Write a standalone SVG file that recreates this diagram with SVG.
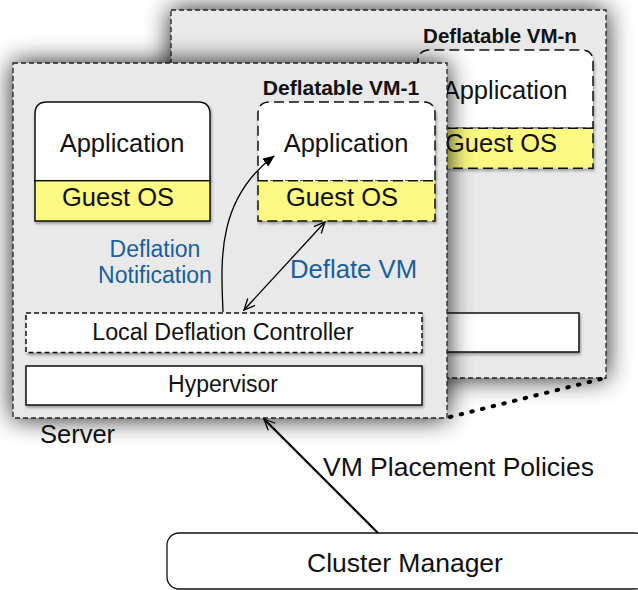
<svg xmlns="http://www.w3.org/2000/svg" width="638" height="590" viewBox="0 0 638 590">
<defs>
<filter id="bigShadow" x="-25%" y="-25%" width="150%" height="150%">
<feGaussianBlur in="SourceAlpha" stdDeviation="13"/>
<feComponentTransfer><feFuncA type="linear" slope="0.9"/></feComponentTransfer>
<feMerge><feMergeNode/><feMergeNode in="SourceGraphic"/></feMerge>
</filter>
<filter id="smallShadow" x="-10%" y="-20%" width="130%" height="160%">
<feGaussianBlur in="SourceAlpha" stdDeviation="1.5"/>
<feOffset dx="1" dy="2"/>
<feComponentTransfer><feFuncA type="linear" slope="0.35"/></feComponentTransfer>
<feMerge><feMergeNode/><feMergeNode in="SourceGraphic"/></feMerge>
</filter>
<marker id="filled" markerWidth="12" markerHeight="10" refX="11" refY="5" orient="auto" markerUnits="userSpaceOnUse">
<path d="M0,0 L12,5 L0,10 Z" fill="#000"/>
</marker>
<marker id="open" markerWidth="14" markerHeight="12" refX="12" refY="6" orient="auto-start-reverse" markerUnits="userSpaceOnUse">
<path d="M1,1 L12,6 L1,11" fill="none" stroke="#000" stroke-width="1.3"/>
</marker>
</defs>
<style>
.server{fill:#e9e9e9;stroke:#222;stroke-width:1.3;stroke-dasharray:5 3}
.app{fill:#fff;stroke:#111;stroke-width:1.5}
.os{fill:#fbf981;stroke:#111;stroke-width:1.5}
.dash{stroke-dasharray:10 5}
.box{fill:#fff;stroke:#111;stroke-width:1.5}
.t{font-family:"Liberation Sans",Arial,sans-serif;fill:#111}
.b{font-family:"Liberation Sans",Arial,sans-serif;font-weight:bold;fill:#111}
.blue{font-family:"Liberation Sans",Arial,sans-serif;fill:#1a5f9e}
.ln{fill:none;stroke:#000;stroke-width:1.3}
</style>
<rect width="638" height="590" fill="#fff"/>

<g id="server-n">
<rect class="server" x="171" y="10" width="435" height="368" filter="url(#bigShadow)"/>
<text class="b" x="500" y="43" font-size="20.5" text-anchor="middle">Deflatable VM-n</text>
<g id="vm-n" filter="url(#smallShadow)">
<path class="app dash" d="M418,128.3 V62 Q418,50 430,50 H581 Q593,50 593,62 V128.3 Z"/>
<rect class="os dash" x="418" y="128.3" width="175" height="40"/>
</g>
<text class="t" x="505" y="99" font-size="25.5" text-anchor="middle">Application</text>
<text class="t" x="501" y="152" font-size="25.5" text-anchor="middle">Guest OS</text>
<rect class="box" x="300" y="313" width="279" height="39" filter="url(#smallShadow)"/>
</g>

<g id="server-1">
<rect class="server" x="13" y="63" width="434" height="355" filter="url(#bigShadow)"/>
</g>

<g id="vm-plain" filter="url(#smallShadow)">
<path class="app" d="M35,180.7 V114 Q35,102 47,102 H198 Q210,102 210,114 V180.7 Z"/>
<rect class="os" x="35" y="180.7" width="175" height="40.3"/>
</g>
<text class="t" x="122" y="152" font-size="25.5" text-anchor="middle">Application</text>
<text class="t" x="118" y="206" font-size="25.5" text-anchor="middle">Guest OS</text>

<g id="vm-1">
<text class="b" x="341" y="95" font-size="21" text-anchor="middle">Deflatable VM-1</text>
<g filter="url(#smallShadow)">
<path class="app dash" d="M258,180.7 V114 Q258,102 270,102 H423 Q435,102 435,114 V180.7 Z"/>
<rect class="os dash" x="258" y="180.7" width="177" height="40.3"/>
</g>
<text class="t" x="346" y="152" font-size="25.5" text-anchor="middle">Application</text>
<text class="t" x="342" y="206" font-size="25.5" text-anchor="middle">Guest OS</text>
</g>

<g id="ldc">
<rect class="box" x="26" y="313" width="396" height="39.5" stroke-dasharray="5 3" filter="url(#smallShadow)"/>
<text class="t" x="223" y="339.5" font-size="23.3" text-anchor="middle">Local Deflation Controller</text>
</g>
<g id="hypervisor">
<rect class="box" x="26" y="366" width="396" height="39" filter="url(#smallShadow)"/>
<text class="t" x="223" y="392" font-size="23" text-anchor="middle">Hypervisor</text>
</g>

<text class="t" x="40" y="443" font-size="25.5">Server</text>

<g id="cluster-manager">
<rect x="167" y="533" width="480" height="56" rx="12" fill="#fff" stroke="#111" stroke-width="1.3"/>
<text class="t" x="405" y="571.5" font-size="26.5" text-anchor="middle">Cluster Manager</text>
</g>

<g id="connectors">
<path class="ln" d="M223,312 C221,262 216,200 274,156" marker-end="url(#filled)"/>
<line class="ln" x1="244" y1="310" x2="325" y2="222" marker-start="url(#open)" marker-end="url(#open)"/>
<line x1="378" y1="533" x2="264" y2="419" stroke="#000" stroke-width="2.2" marker-end="url(#open)"/>
<line x1="450" y1="417" x2="605" y2="378" stroke="#000" stroke-width="4" stroke-linecap="round" stroke-dasharray="1.5 9.5"/>
</g>

<text class="blue" x="155" y="256.5" font-size="23" text-anchor="middle">Deflation</text>
<text class="blue" x="155" y="283" font-size="23" text-anchor="middle">Notification</text>
<text class="blue" x="290" y="278" font-size="25.7">Deflate VM</text>
<text class="t" x="323" y="476" font-size="26.5">VM Placement Policies</text>
</svg>
